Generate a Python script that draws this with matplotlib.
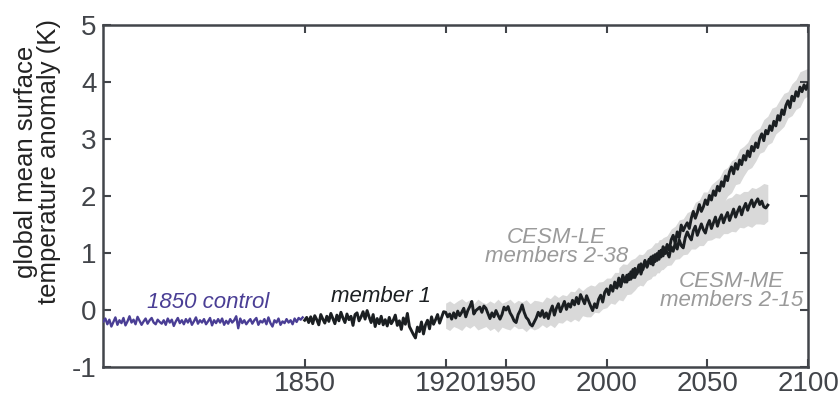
import matplotlib
matplotlib.use('Agg')
import matplotlib.pyplot as plt
import numpy as np

plt.rcParams['font.family'] = ['Liberation Sans', 'DejaVu Sans']
plt.rcParams['axes.unicode_minus'] = False

# 1850 control run, shown over 1750-1849
control_years = np.arange(1750, 1850)
control = [
    -0.20, -0.15, -0.25, -0.17, -0.29, -0.21, -0.13, -0.26, -0.18, -0.23,
    -0.14, -0.27, -0.20, -0.11, -0.22, -0.17, -0.25, -0.12, -0.19, -0.26,
    -0.20, -0.15, -0.24, -0.18, -0.14, -0.22, -0.25, -0.17, -0.21, -0.24,
    -0.18, -0.26, -0.15, -0.22, -0.17, -0.28, -0.20, -0.14, -0.23, -0.18,
    -0.25, -0.16, -0.22, -0.15, -0.26, -0.20, -0.13, -0.24, -0.18, -0.22,
    -0.16, -0.25, -0.20, -0.14, -0.27, -0.18, -0.23, -0.16, -0.22, -0.15,
    -0.26, -0.19, -0.24, -0.16, -0.22, -0.18, -0.11, -0.32, -0.15, -0.23,
    -0.18, -0.25, -0.20, -0.16, -0.24, -0.18, -0.14, -0.26, -0.19, -0.22,
    -0.16, -0.25, -0.13, -0.23, -0.29, -0.18, -0.22, -0.15, -0.26, -0.20,
    -0.23, -0.16, -0.22, -0.18, -0.25, -0.15, -0.21, -0.14, -0.17, -0.13,
]

# member 1, 1850-2100
member1_years = np.arange(1850, 2101)
member1 = [
    -0.18, -0.13, -0.22, -0.12, -0.24, -0.10, -0.17, -0.26, -0.08, -0.16,
    -0.23, -0.11, -0.20, -0.06, -0.15, -0.24, -0.09, -0.19, -0.04, -0.14,
    -0.22, -0.07, -0.17, -0.11, -0.27, -0.08, -0.05, -0.19, -0.12, -0.03,
    -0.16, -0.01, -0.12, -0.22, -0.08, -0.29, -0.15, -0.24, -0.11, -0.26,
    -0.17, -0.28, -0.13, -0.24, -0.18, -0.09, -0.27, -0.19, -0.34, -0.14,
    -0.25, -0.06, -0.29, -0.36, -0.43, -0.49, -0.30, -0.38, -0.21, -0.42,
    -0.26, -0.18, -0.33, -0.12, -0.25, -0.17, -0.08, -0.23, -0.13, -0.03,
    -0.04, -0.12, -0.07, -0.16, -0.05, -0.14, -0.02, -0.10, -0.04, 0.03,
    -0.12, -0.01, 0.06, 0.15, -0.07, -0.01, 0.02, 0.05, -0.04, 0.07,
    0.03, -0.06, -0.15, -0.05, -0.12, -0.01, -0.09, -0.16, -0.08, 0.05,
    0.00, 0.06, -0.05, -0.11, -0.19, -0.22, -0.08, -0.01, 0.09, -0.04,
    -0.13, -0.17, -0.25, -0.28, -0.21, -0.14, -0.04, -0.11, -0.01, -0.13,
    -0.05, -0.15, -0.02, 0.07, -0.09, 0.03, 0.11, -0.03, 0.06, 0.15,
    0.01, 0.11, 0.05, 0.17, 0.09, 0.22, 0.11, 0.27, 0.19, 0.11,
    0.25, 0.16, 0.07, -0.01, 0.11, 0.04, 0.19, 0.26, 0.14, 0.31,
    0.37, 0.27, 0.43, 0.33, 0.49, 0.39, 0.56, 0.45, 0.61, 0.51,
    0.49, 0.63, 0.54, 0.71, 0.57, 0.67, 0.79, 0.63, 0.75, 0.87,
    0.75, 0.85, 0.93, 0.79, 0.97, 0.87, 1.03, 0.93, 1.11, 0.99,
    1.15, 1.05, 1.23, 1.31, 1.17, 1.37, 1.27, 1.49, 1.39, 1.47,
    1.53, 1.43, 1.61, 1.73, 1.61, 1.71, 1.85, 1.73, 1.81, 1.93,
    1.85, 2.01, 1.93, 2.09, 2.01, 2.17, 2.09, 2.25, 2.17, 2.35,
    2.27, 2.43, 2.51, 2.39, 2.57, 2.47, 2.63, 2.55, 2.71, 2.63,
    2.79, 2.69, 2.87, 2.79, 2.93, 2.85, 3.01, 3.09, 2.97, 3.15,
    3.09, 3.23, 3.15, 3.31, 3.23, 3.41, 3.33, 3.51, 3.43, 3.59,
    3.67, 3.55, 3.75, 3.67, 3.83, 3.75, 3.91, 3.83, 3.95, 3.87,
    3.98,
]

# medium ensemble run branching in 2005
me_years = np.arange(2005, 2081)
me_line = [
    0.39, 0.49, 0.41, 0.57, 0.49,
    0.61, 0.53, 0.67, 0.57, 0.73, 0.63, 0.71, 0.81, 0.71, 0.85,
    0.77, 0.89, 0.81, 0.95, 0.85, 0.99, 0.89, 1.05, 0.95, 1.09,
    1.01, 0.93, 1.11, 1.03, 1.17, 1.07, 1.23, 1.13, 1.09, 1.27,
    1.37, 1.29, 1.23, 1.39, 1.47, 1.31, 1.41, 1.51, 1.41, 1.35,
    1.49, 1.57, 1.43, 1.53, 1.63, 1.47, 1.59, 1.67, 1.53, 1.63,
    1.71, 1.57, 1.67, 1.77, 1.63, 1.73, 1.81, 1.67, 1.79, 1.87,
    1.75, 1.85, 1.93, 1.81, 1.89, 1.95, 1.85, 1.91, 1.81, 1.79,
    1.84,
]

# CESM-LE members 2-38 spread (every 2 years)
le_years = np.arange(1920, 2101, 2)
le_mid = [
    -0.10, -0.10, -0.09, -0.08, -0.08, -0.07, -0.07, -0.08, -0.08, -0.09,
    -0.09, -0.10, -0.10, -0.10, -0.09, -0.09, -0.08, -0.08, -0.08, -0.09,
    -0.10, -0.10, -0.09, -0.08, -0.06, -0.04, -0.03, -0.02, 0.00, 0.02,
    0.04, 0.06, 0.08, 0.10, 0.12, 0.14, 0.16, 0.19, 0.22, 0.26,
    0.30, 0.34, 0.38, 0.42, 0.46, 0.50, 0.55, 0.60, 0.65, 0.70,
    0.76, 0.82, 0.88, 0.94, 1.00, 1.07, 1.14, 1.21, 1.28, 1.36,
    1.44, 1.52, 1.60, 1.68, 1.76, 1.84, 1.92, 2.00, 2.08, 2.16,
    2.25, 2.34, 2.43, 2.52, 2.61, 2.70, 2.79, 2.88, 2.97, 3.06,
    3.15, 3.24, 3.33, 3.42, 3.51, 3.60, 3.69, 3.78, 3.87, 3.96,
    4.00,
]
le_half = [
    0.22, 0.26, 0.20, 0.24, 0.28, 0.21, 0.25, 0.19, 0.27, 0.23,
    0.20, 0.26, 0.22, 0.29, 0.21, 0.24, 0.27, 0.20, 0.25, 0.23,
    0.28, 0.21, 0.26, 0.24, 0.20, 0.27, 0.23, 0.29, 0.22, 0.25,
    0.21, 0.27, 0.24, 0.30, 0.22, 0.26, 0.28, 0.23, 0.27, 0.24,
    0.26, 0.22, 0.28, 0.24, 0.30, 0.23, 0.27, 0.25, 0.21, 0.28,
    0.24, 0.27, 0.22, 0.29, 0.25, 0.23, 0.28, 0.26, 0.30, 0.24,
    0.27, 0.22, 0.29, 0.25, 0.31, 0.23, 0.28, 0.26, 0.24, 0.30,
    0.25, 0.28, 0.23, 0.30, 0.26, 0.24, 0.29, 0.27, 0.22, 0.28,
    0.25, 0.30, 0.24, 0.27, 0.29, 0.23, 0.28, 0.26, 0.31, 0.25,
    0.24,
]

# CESM-ME members 2-15 spread (every 2 years)
me_band_years = np.arange(2006, 2081, 2)
me_mid = [
    0.50, 0.54, 0.58, 0.62, 0.66, 0.70, 0.74, 0.79, 0.84, 0.89,
    0.94, 0.99, 1.04, 1.09, 1.14, 1.19, 1.24, 1.29, 1.33, 1.37,
    1.41, 1.45, 1.49, 1.53, 1.56, 1.59, 1.62, 1.65, 1.68, 1.71,
    1.74, 1.76, 1.78, 1.80, 1.82, 1.84, 1.86, 1.88,
]
me_half = [
    0.24, 0.27, 0.22, 0.26, 0.25, 0.28, 0.23, 0.27, 0.25, 0.29,
    0.24, 0.28, 0.26, 0.30, 0.25, 0.29, 0.27, 0.31, 0.26, 0.30,
    0.28, 0.32, 0.27, 0.30, 0.29, 0.33, 0.28, 0.31, 0.30, 0.34,
    0.29, 0.32, 0.30, 0.35, 0.31, 0.33, 0.36, 0.32,
]

x_ticks = [1850, 1920, 1950, 2000, 2050, 2100]
y_ticks = [-1, 0, 1, 2, 3, 4, 5]

axis_col = '#42454a'
band_col = '#d9d9d9'
line_col = '#1b1f22'
ctrl_col = '#4a3e95'
note_col = '#9a9a9a'

fig = plt.figure(figsize=(8.4, 4.0), dpi=100)
ax = fig.add_axes([0.123, 0.0825, 0.839, 0.855])

le_mid = np.array(le_mid)
le_half = np.array(le_half)
me_mid = np.array(me_mid)
me_half = np.array(me_half)
ax.fill_between(le_years, le_mid - le_half, le_mid + le_half,
                color=band_col, lw=0, zorder=1)
ax.fill_between(me_band_years, me_mid - me_half, me_mid + me_half,
                color=band_col, lw=0, zorder=1)

ax.plot(control_years, control, color=ctrl_col, lw=1.7, zorder=3)
ax.plot(member1_years, member1, color=line_col, lw=2.1, zorder=4)
ax.plot(me_years, me_line, color=line_col, lw=2.1, zorder=4)

ax.text(1802, 0.14, '1850 control', color=ctrl_col, fontsize=16,
        style='italic', ha='center', va='center')
ax.text(1888, 0.23, 'member 1', color=line_col, fontsize=16,
        style='italic', ha='center', va='center')
ax.text(1975, 1.1, 'CESM-LE\nmembers 2-38', color=note_col, fontsize=16,
        style='italic', ha='center', va='center', linespacing=0.9)
ax.text(2062, 0.33, 'CESM-ME\nmembers 2-15', color=note_col, fontsize=16,
        style='italic', ha='center', va='center', linespacing=0.9)

ax.set_xlim(1750, 2100)
ax.set_ylim(-1, 5)
ax.set_xticks(x_ticks)
ax.set_yticks(y_ticks)
ax.tick_params(direction='in', length=6, width=1.5, color=axis_col,
               labelcolor=axis_col, labelsize=20, top=True, right=True)
ax.tick_params(axis='x', pad=3)
ax.tick_params(axis='y', pad=5)
for s in ax.spines.values():
    s.set_color(axis_col)
    s.set_linewidth(1.8)

ax.set_ylabel('global mean surface\ntemperature anomaly (K)', fontsize=18.5,
              color='#222222', linespacing=0.95)
ax.yaxis.set_label_coords(-0.06, 0.6)

plt.savefig('out.png', dpi=100)
